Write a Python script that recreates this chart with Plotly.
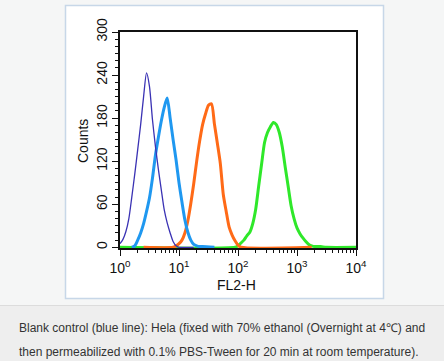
import plotly.graph_objects as go

# ---- data (log10 of FL2-H channel, counts) ----
dark_log = [0.00, 0.05, 0.10, 0.15, 0.20, 0.25, 0.30, 0.35, 0.40, 0.45, 0.50,
            0.55, 0.60, 0.65, 0.70, 0.75, 0.80, 0.85, 0.90, 0.95, 1.00, 1.25]
dark_counts = [5, 11, 22, 40, 70, 102, 136, 171, 210, 243, 224,
               178, 141, 109, 80, 52, 34, 20, 8, 2, 0, 0]

lblue_log = [0.20, 0.25, 0.30, 0.35, 0.40, 0.45, 0.50, 0.55, 0.60, 0.65, 0.70,
             0.75, 0.80, 0.85, 0.90, 0.95, 1.00, 1.05, 1.10, 1.15, 1.20, 1.25,
             1.30, 1.35, 1.40, 1.60]
lblue_counts = [0, 2, 10, 20, 33, 50, 69, 96, 128, 153, 176,
                195, 208, 180, 150, 122, 90, 63, 38, 21, 10, 4,
                2, 1, 1, 0]

orange_log = [0.40, 0.90, 0.95, 1.00, 1.05, 1.10, 1.15, 1.20, 1.25, 1.30, 1.35,
              1.40, 1.45, 1.50, 1.55, 1.60, 1.65, 1.70, 1.75, 1.80, 1.85, 1.90,
              1.95, 2.00, 2.05, 3.25]
orange_counts = [0, 0, 2, 5, 10, 20, 37, 61, 89, 120, 148,
                 171, 186, 198, 200, 172, 145, 117, 74, 50, 28, 17,
                 9, 3, 0, 0]

green_log = [0.00, 1.95, 2.00, 2.05, 2.10, 2.15, 2.20, 2.25, 2.30, 2.35, 2.40,
             2.45, 2.50, 2.55, 2.60, 2.65, 2.70, 2.75, 2.80, 2.85, 2.90, 2.95,
             3.00, 3.05, 3.10, 3.15, 3.20, 3.25, 3.30, 3.40, 3.50, 4.00]
green_counts = [0, 0, 2, 6, 10, 16, 21, 33, 53, 85, 116,
                146, 160, 168, 174, 171, 160, 140, 112, 85, 58, 40,
                27, 19, 13, 8, 4, 2, 1, 1, 0, 0]

x_tickvals = [1, 10, 100, 1000, 10000]
x_ticktext = ["10<sup>0</sup>", "10<sup>1</sup>", "10<sup>2</sup>", "10<sup>3</sup>", "10<sup>4</sup>"]
y_tickvals = [0, 60, 120, 180, 240, 300]

caption1 = "Blank control (blue line): Hela (fixed with 70% ethanol (Overnight at 4\u2103) and"
caption2 = "then permeabilized with 0.1% PBS-Tween for 20 min at room temperature)."

series = [
    ("green", green_log, green_counts, "#2fe82a", 3),
    ("orange", orange_log, orange_counts, "#ff6a17", 3),
    ("lightblue", lblue_log, lblue_counts, "#1f98f0", 3),
    ("darkblue", dark_log, dark_counts, "#3a32b4", 1.3),
]

fig = go.Figure()
for name, lx, cy, col, w in series:
    fig.add_trace(go.Scatter(
        x=[10 ** v for v in lx], y=cy, mode="lines", name=name,
        line=dict(color=col, width=w, shape="spline", smoothing=0.7), showlegend=False,
        hoverinfo="skip"))

W, H = 444, 361
L, R, T, B = 120, 356, 32, 248
pw, ph = R - L, B - T
def px(x):
    return (x - L) / pw
def py(y):
    return (B - y) / ph

shapes = [
    # caption band
    dict(type="rect", xref="paper", yref="paper", x0=px(-5), x1=px(450), y0=py(306), y1=py(366),
         fillcolor="#eeeeee", line=dict(width=0), layer="below"),
    dict(type="line", xref="paper", yref="paper", x0=px(-5), x1=px(450), y0=py(305.5), y1=py(305.5),
         line=dict(color="#dcdcdc", width=1), layer="below"),
    # white panel with light blue border
    dict(type="rect", xref="paper", yref="paper", x0=px(65.5), x1=px(383.5), y0=py(298.5), y1=py(5.5),
         fillcolor="white", line=dict(color="#c7d7e8", width=1.5), layer="below"),
]

annotations = [
    dict(text="Counts", xref="paper", yref="paper", x=px(83), y=py(141), textangle=-90,
         showarrow=False, font=dict(size=14, color="#111", family="Arial, Liberation Sans, sans-serif"),
         xanchor="center", yanchor="middle"),
    dict(text="FL2-H", xref="paper", yref="paper", x=px(236), y=py(285),
         showarrow=False, font=dict(size=14, color="#111", family="Arial, Liberation Sans, sans-serif"),
         xanchor="center", yanchor="middle"),
    dict(text=caption1, xref="paper", yref="paper", x=px(17), y=py(328), showarrow=False,
         xanchor="left", yanchor="middle",
         font=dict(size=12, color="#333333", family="Arial, Liberation Sans, sans-serif")),
    dict(text=caption2, xref="paper", yref="paper", x=px(17), y=py(352), showarrow=False,
         xanchor="left", yanchor="middle",
         font=dict(size=12, color="#333333", family="Arial, Liberation Sans, sans-serif")),
]

axis_font = dict(size=14, color="#111", family="Arial, Liberation Sans, sans-serif")

fig.update_layout(
    width=W, height=H,
    margin=dict(l=L, r=W - R, t=T, b=H - B, pad=0),
    paper_bgcolor="#f5f6f6", plot_bgcolor="white",
    shapes=shapes, annotations=annotations,
    xaxis=dict(type="log", range=[0, 4], tickvals=x_tickvals, ticktext=x_ticktext,
               ticks="outside", ticklen=6, tickwidth=1.3, tickcolor="#111",
               showline=True, linecolor="#111", linewidth=1.5, mirror=True,
               showgrid=False, zeroline=False, tickfont=axis_font,
               minor=dict(ticks="outside", ticklen=3, tickwidth=1, tickcolor="#111",
                          dtick="D1", showgrid=False)),
    yaxis=dict(range=[-1, 300], tickvals=y_tickvals, tickangle=-90,
               ticks="outside", ticklen=6, tickwidth=1.3, tickcolor="#111",
               showline=True, linecolor="#111", linewidth=1.5, mirror=True,
               showgrid=False, zeroline=False, tickfont=axis_font,
               minor=dict(ticks="outside", ticklen=3, tickwidth=1, tickcolor="#111",
                          dtick=10, showgrid=False)),
)

fig.write_html("out.html", config={"displayModeBar": False},
               post_script="document.body.style.margin='0px';document.body.style.overflow='hidden';")
